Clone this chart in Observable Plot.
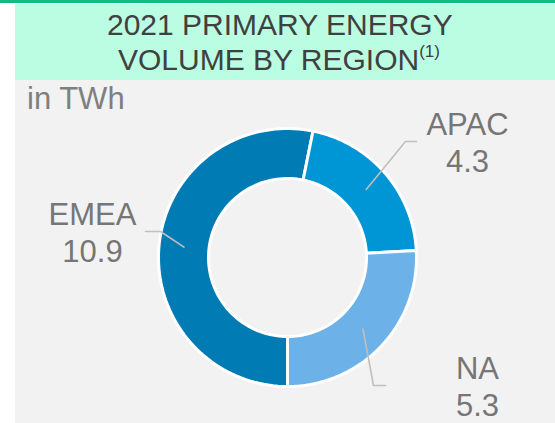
<!DOCTYPE html>
<html><head><meta charset="utf-8">
<script src="https://cdn.jsdelivr.net/npm/d3@7"></script>
<script src="https://cdn.jsdelivr.net/npm/@observablehq/plot@0.6"></script>
<style>
html,body{margin:0;padding:0;background:#fff;width:555px;height:423px;overflow:hidden;font-family:"Liberation Sans",Arial,sans-serif;}
#topline{position:absolute;left:0;top:0;width:555px;height:3px;background:#12b981;}
#band{position:absolute;left:15px;top:4px;width:540px;height:76px;background:#bbfde3;}
.t{position:absolute;font-size:30px;line-height:30px;color:#404040;white-space:nowrap;}
.t sup{font-size:17px;line-height:0;vertical-align:0;position:relative;top:-13px;}
#panel{position:absolute;left:15px;top:80px;width:540px;height:343px;background:#f2f2f2;}
#unit{position:absolute;left:27px;top:83px;font-size:31px;line-height:31px;color:#7f7f7f;white-space:nowrap;}
</style></head>
<body>
<div id="topline"></div>
<div id="band"></div>
<div class="t" style="left:107px;top:10px;">2021 PRIMARY ENERGY</div>
<div class="t" style="left:118px;top:45px;">VOLUME BY REGION<sup>(1)</sup></div>
<div id="panel"></div>
<div id="unit">in TWh</div>
<script>
// Data
const regions = ["EMEA", "APAC", "NA"];
const values = [10.9, 4.3, 5.3];
const colors = ["#007bb4", "#0095d5", "#6cb2e9"];

// Layout (annotation placement relative to donut centre, in px)
const W = 540, H = 343, CX = 272, CY = 177;
const R = 129, r = 79, RM = 104;
const labelLayout = {
  EMEA: {ex: -127, ey: 26, run: -15, tx: -195},
  APAC: {ex: 118, ey: 116, run: 11, tx: 180},
  NA:   {ex: 86, ey: -128, run: 12, tx: 190}
};

const table = regions.map((region, i) => ({region, value: values[i], color: colors[i]}));
const pie = d3.pie().value(d => d.value).sort(null).startAngle(Math.PI).endAngle(3 * Math.PI);
const arcs = pie(table);

const pt = (a, rad) => ({x: rad * Math.sin(a), y: rad * Math.cos(a)});
const slicePts = arcs.map(a => {
  const n = 90, pts = [];
  for (let k = 0; k <= n; k++) pts.push(pt(a.startAngle + (a.endAngle - a.startAngle) * k / n, R));
  for (let k = n; k >= 0; k--) pts.push(pt(a.startAngle + (a.endAngle - a.startAngle) * k / n, r));
  pts.push(pts[0]);
  return pts.map(p => ({...p, region: a.data.region}));
});

const leaders = [];
const labels = [];
arcs.forEach(a => {
  const L = labelLayout[a.data.region];
  const mid = (a.startAngle + a.endAngle) / 2;
  const c = pt(mid, RM);
  leaders.push({...c, region: a.data.region});
  leaders.push({x: L.ex, y: L.ey, region: a.data.region});
  leaders.push({x: L.ex + L.run, y: L.ey, region: a.data.region});
  labels.push({x: L.tx, y: L.ey, text: a.data.region + "\n" + a.data.value.toFixed(1)});
});

const marks = slicePts.map((pts, i) => Plot.line(pts, {
  x: "x", y: "y", fill: colors[i], stroke: "white", strokeWidth: 3, strokeLinejoin: "miter"
}));
marks.push(Plot.line(leaders, {x: "x", y: "y", z: "region", stroke: "#bfbfbf", strokeWidth: 1.6}));
marks.push(Plot.text(labels, {x: "x", y: "y", text: "text", fontSize: 31, fill: "#767676",
  lineHeight: 1.2, textAnchor: "middle", fontFamily: "Liberation Sans, Arial, sans-serif"}));

const chart = Plot.plot({
  width: W, height: H,
  marginTop: 0, marginRight: 0, marginBottom: 0, marginLeft: 0,
  x: {domain: [-CX, W - CX], axis: null},
  y: {domain: [-(H - CY), CY], axis: null},
  style: {background: "transparent", overflow: "visible"},
  marks
});
chart.style.position = "absolute";
chart.style.left = "15px";
chart.style.top = "80px";
document.body.appendChild(chart);
</script>
</body></html>
